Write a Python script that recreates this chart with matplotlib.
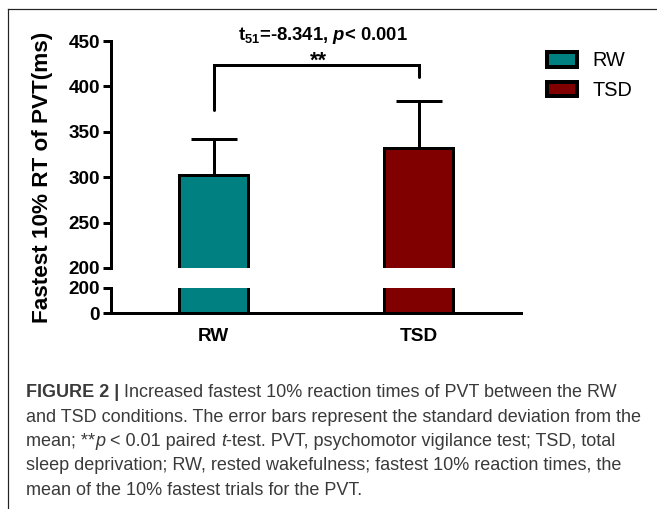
import matplotlib
matplotlib.use("Agg")
import matplotlib.pyplot as plt
from matplotlib.lines import Line2D

# ---- data ----
categories = ["RW", "TSD"]
means = [302, 332]
sds = [40, 52]
bar_colors = ["#008080", "#800000"]
upper_ticks = [200, 250, 300, 350, 400, 450]
lower_ticks = [0, 200]
bracket_left_bottom = 374
bracket_top = 424
bracket_right_bottom = 410
stat_text = r"t$_{51}$=-8.341, $p$< 0.001"
sig_text = "**"
ylabel = "Fastest 10% RT of PVT(ms)"

W, H = 657, 509
DPI = 100
PX = 72.0 / DPI  # points per pixel

plt.rcParams["font.family"] = ["Liberation Sans", "DejaVu Sans"]
plt.rcParams["mathtext.fontset"] = "custom"
plt.rcParams["mathtext.rm"] = "Liberation Sans:bold"
plt.rcParams["mathtext.bf"] = "Liberation Sans:bold"
plt.rcParams["mathtext.it"] = "Liberation Sans:bold:italic"

fig = plt.figure(figsize=(W / DPI, H / DPI), dpi=DPI)

def fx(px):
    return px / W

def fy(py):
    return 1 - py / H

ax_l, ax_r = 111, 521
ax_up = fig.add_axes([fx(ax_l), fy(268), fx(ax_r - ax_l), fy(41) - fy(268)])
ax_lo = fig.add_axes([fx(ax_l), fy(313), fx(ax_r - ax_l), fy(288) - fy(313)], sharex=ax_up)

lw = 3 * PX
x = [0, 1]
for ax in (ax_up, ax_lo):
    ax.bar(x, means, width=0.34, color=bar_colors, edgecolor="black",
           linewidth=lw, zorder=3)
    ax.set_xlim(-0.5, 1.5)
    for s in ("top", "right"):
        ax.spines[s].set_visible(False)
    ax.spines["left"].set_linewidth(lw)
    ax.spines["bottom"].set_linewidth(lw)
    ax.tick_params(axis="y", direction="out", length=8 * PX, width=lw, pad=2)

# upper part
ax_up.set_ylim(200, 450)
ax_up.set_yticks(upper_ticks)
ax_up.set_yticklabels([str(t) for t in upper_ticks], fontweight="bold", fontsize=13.7)
ax_up.spines["bottom"].set_visible(False)
ax_up.tick_params(axis="x", bottom=False, labelbottom=False)
ax_up.errorbar(x, means, yerr=[[0, 0], sds], fmt="none", ecolor="black",
               elinewidth=lw, capsize=23 * PX, capthick=lw, zorder=2)

# lower part
ax_lo.set_ylim(0, 200)
ax_lo.set_yticks(lower_ticks)
ax_lo.set_yticklabels([str(t) for t in lower_ticks], fontweight="bold", fontsize=13.7)
ax_lo.set_xticks(x)
ax_lo.set_xticklabels(categories, fontweight="bold", fontsize=13.7)
ax_lo.tick_params(axis="x", length=0, pad=11)

# significance bracket
ax_up.plot([0, 0, 1, 1], [bracket_left_bottom, bracket_top, bracket_top, bracket_right_bottom],
           color="black", lw=lw, clip_on=False, solid_capstyle="round",
           solid_joinstyle="miter")
fig.text(fx(318), fy(67), sig_text, ha="center", va="baseline", fontsize=15.5,
         fontweight="bold")

# stats text
fig.text(fx(323), fy(40), stat_text, ha="center", va="baseline", fontsize=13.3,
         fontweight="bold")

# y label
fig.text(fx(43), fy(177), ylabel, rotation=90, ha="center", va="center",
         fontsize=16.2, fontweight="bold")

# legend
handles = [plt.Rectangle((0, 0), 1, 1, facecolor=c, edgecolor="black", linewidth=4 * PX)
           for c in bar_colors]
fig.legend(handles, categories, loc="upper left",
           bbox_to_anchor=(fx(547), fy(51)), frameon=False, fontsize=14.3,
           handlelength=1.5, handleheight=0.78, handletextpad=0.8,
           labelspacing=0.55, borderpad=0, borderaxespad=0)

# frame lines
fig.add_artist(Line2D([fx(8), fx(657)], [fy(9), fy(9)], color="#222222", lw=1.2 * PX))
fig.add_artist(Line2D([fx(8), fx(8)], [fy(9), fy(509)], color="#222222", lw=1.2 * PX))

# caption
cap_color = "#3a3a3a"
cap_font = ["Liberation Sans", "DejaVu Sans"]
cap_size = 12.95
caption_lines = [
    [("FIGURE 2 |", "bold", "normal"),
     (" Increased fastest 10% reaction times of PVT between the RW", "normal", "normal")],
    [("and TSD conditions. The error bars represent the standard deviation from the", "normal", "normal")],
    [("mean; **", "normal", "normal"), ("p", "normal", "italic"),
     (" < 0.01 paired ", "normal", "normal"), ("t", "normal", "italic"),
     ("-test. PVT, psychomotor vigilance test; TSD, total", "normal", "normal")],
    [("sleep deprivation; RW, rested wakefulness; fastest 10% reaction times, the", "normal", "normal")],
    [("mean of the 10% fastest trials for the PVT.", "normal", "normal")],
]
baselines = [397, 421.5, 446, 470.5, 495]
cap_artists = []
for line, yb in zip(caption_lines, baselines):
    row = []
    for txt, wt, st in line:
        t = fig.text(fx(26), fy(yb), txt, ha="left", va="baseline",
                     fontsize=cap_size, fontweight=wt, fontstyle=st,
                     color=cap_color, family=cap_font)
        row.append(t)
    cap_artists.append(row)

fig.canvas.draw()
renderer = fig.canvas.get_renderer()
for row in cap_artists:
    for i in range(1, len(row)):
        bb = row[i - 1].get_window_extent(renderer)
        row[i].set_x(bb.x1 / W)

fig.savefig("out.png", dpi=DPI)
